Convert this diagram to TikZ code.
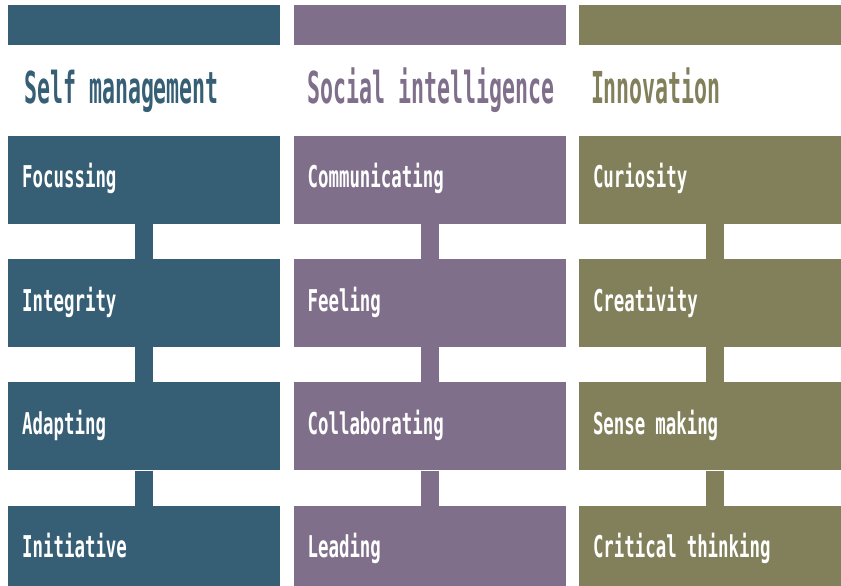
\documentclass[tikz,border=0pt]{standalone}
\usepackage{fontspec}
\usetikzlibrary{positioning}
\newfontfamily\headfont{DejaVu Sans Mono}[FakeStretch=0.49]
\newfontfamily\skillfont{DejaVu Sans Mono}[FakeStretch=0.58]
\definecolor{selfblue}{HTML}{365F76}
\definecolor{socialpurple}{HTML}{7F6F8B}
\definecolor{innovolive}{HTML}{81805A}
\begin{document}
\begin{tikzpicture}[
      x=1pt, y=-1pt,
      node distance=35pt and 13pt,
      bar/.style={fill=#1, minimum width=272pt, minimum height=40pt, inner sep=0pt},
      head/.style={text=#1, anchor=base west, inner sep=0pt,
        font=\headfont\bfseries\fontsize{44}{44}\selectfont},
      skill/.style={fill=#1, text=white, minimum width=272pt, minimum height=88pt,
        inner sep=0pt, text width=244pt, align=left, text height=22pt, text depth=6pt,
        font=\skillfont\bfseries\fontsize{30}{30}\selectfont},
      link/.style={draw=#1, line width=18pt}
      ]
      \clip (0,0) rectangle (841,586);
      % top bars
      \node[bar=selfblue, anchor=north west] (bar1) at (8,5) {};
      \node[bar=socialpurple, right=13pt of bar1] (bar2) {};
      \node[bar=innovolive, right=13pt of bar2] (bar3) {};
      % headings
      \node[head=selfblue] (h1) at ([xshift=16pt, yshift=-58pt]bar1.south west) {Self management};
      \node[head=socialpurple] (h2) at ([xshift=14pt, yshift=-58pt]bar2.south west) {Social intelligence};
      \node[head=innovolive] (h3) at ([xshift=12pt, yshift=-58pt]bar3.south west) {Innovation};
      % self management
      \node[skill=selfblue, below=90pt of bar1] (s1) {Focussing};
      \node[skill=selfblue, below=of s1] (s2) {Integrity};
      \node[skill=selfblue, below=of s2] (s3) {Adapting};
      \node[skill=selfblue, below=of s3] (s4) {Initiative};
      % social intelligence
      \node[skill=socialpurple, below=90pt of bar2] (c1) {Communicating};
      \node[skill=socialpurple, below=of c1] (c2) {Feeling};
      \node[skill=socialpurple, below=of c2] (c3) {Collaborating};
      \node[skill=socialpurple, below=of c3] (c4) {Leading};
      % innovation
      \node[skill=innovolive, below=90pt of bar3] (i1) {Curiosity};
      \node[skill=innovolive, below=of i1] (i2) {Creativity};
      \node[skill=innovolive, below=of i2] (i3) {Sense making};
      \node[skill=innovolive, below=of i3] (i4) {Critical thinking};
      % links
      \draw[link=selfblue] (s1) -- (s2);
      \draw[link=selfblue] (s2) -- (s3);
      \draw[link=selfblue] (s3) -- (s4);
      \draw[link=socialpurple] (c1) -- (c2);
      \draw[link=socialpurple] (c2) -- (c3);
      \draw[link=socialpurple] (c3) -- (c4);
      \draw[link=innovolive] (i1) -- (i2);
      \draw[link=innovolive] (i2) -- (i3);
      \draw[link=innovolive] (i3) -- (i4);
    \end{tikzpicture}
\end{document}
